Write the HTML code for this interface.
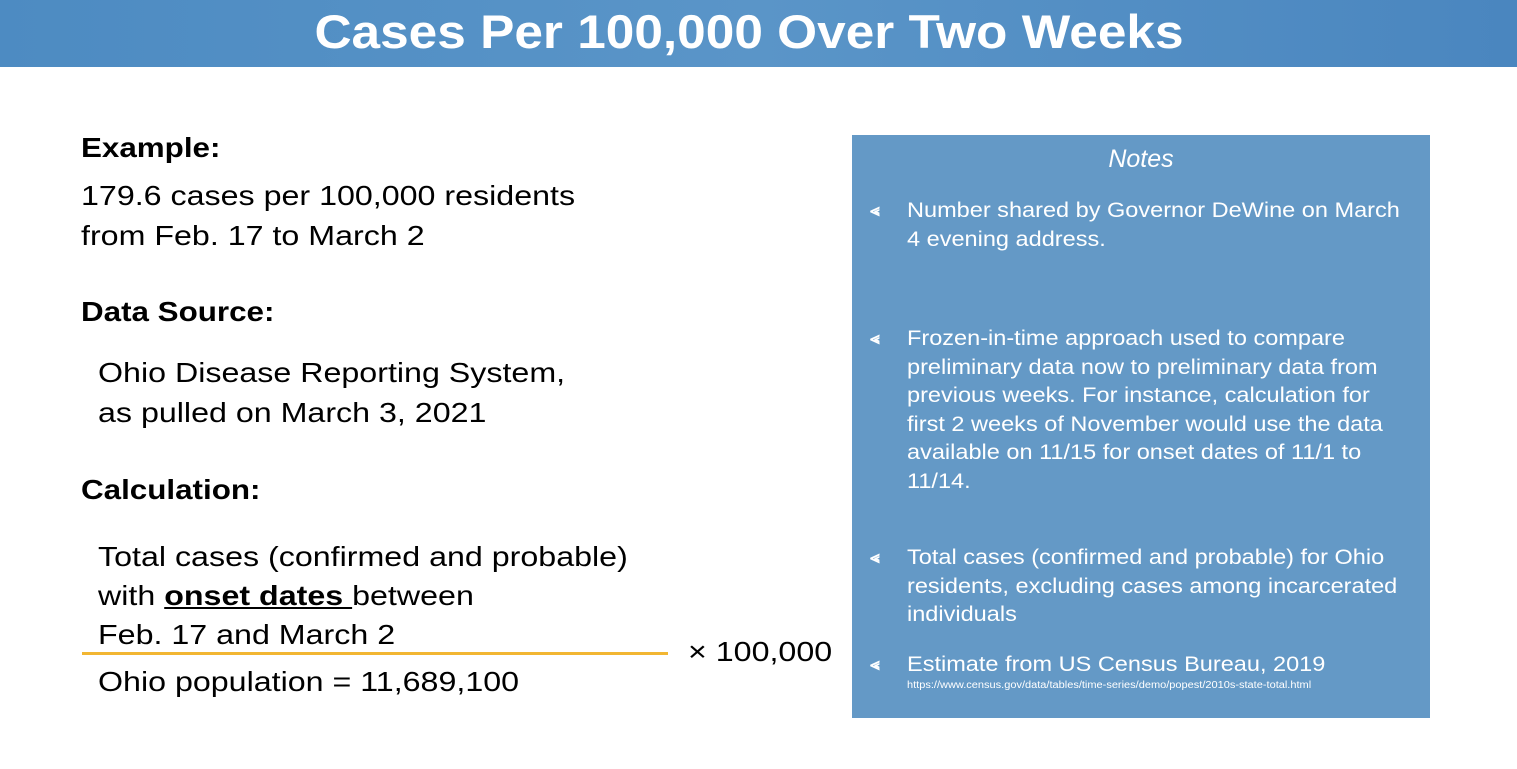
<!DOCTYPE html>
<html><head><style>
body{margin:0;width:1517px;height:769px;background:#fff;position:relative;overflow:hidden;font-family:"Liberation Sans",Arial,sans-serif;}
.hdr{position:absolute;left:0;top:0;width:1517px;height:67px;background:linear-gradient(90deg,#4d8bc2,#5a95c8 50%,#4a86bf);}
.hdr div{position:absolute;left:0;width:1498px;top:4px;text-align:center;color:#fff;font-weight:bold;font-size:47px;transform:scaleX(1.093);transform-origin:749px 0;}
.t{position:absolute;color:#000;font-size:28px;line-height:40px;white-space:nowrap;transform:scaleX(1.15);transform-origin:0 0;}
.b{font-weight:bold;}
.panel{position:absolute;left:852px;top:135px;width:578px;height:583px;background:#6499c6;}
.n{position:absolute;color:#fff;font-size:21px;line-height:28.5px;left:55px;white-space:nowrap;transform:scaleX(1.12);transform-origin:0 0;}
.ar{position:absolute;color:#fff;font-size:17px;left:18px;font-weight:bold;}
</style></head><body>
<div class="hdr"><div>Cases Per 100,000 Over Two Weeks</div></div>
<div class="t b" style="left:81px;top:128px;transform:scaleX(1.12)">Example:</div>
<div class="t" style="left:81px;top:176px">179.6 cases per 100,000 residents<br>from Feb. 17 to March 2</div>
<div class="t b" style="left:81px;top:292px;transform:scaleX(1.12)">Data Source:</div>
<div class="t" style="left:98px;top:353px">Ohio Disease Reporting System,<br>as pulled on March 3, 2021</div>
<div class="t b" style="left:81px;top:470px;transform:scaleX(1.12)">Calculation:</div>
<div class="t" style="left:98px;top:537px;line-height:39px">Total cases (confirmed and probable)<br>with <span class="b" style="text-decoration:underline">onset dates </span>between<br>Feb. 17 and March 2</div>
<div style="position:absolute;left:82px;top:652px;width:586px;height:3px;background:#f2b632"></div>
<div class="t" style="left:688px;top:632px">× 100,000</div>
<div class="t" style="left:98px;top:662px">Ohio population = 11,689,100</div>
<div class="panel">
<div style="position:absolute;left:0;width:578px;top:10px;text-align:center;color:#fff;font-style:italic;font-size:25px">Notes</div>
<div class="ar" style="top:66px">&#x2AA1;</div>
<div class="n" style="top:62px">Number shared by Governor DeWine on March<br>4 evening address.</div>
<div class="ar" style="top:194px">&#x2AA1;</div>
<div class="n" style="top:190px">Frozen-in-time approach used to compare<br>preliminary data now to preliminary data from<br>previous weeks. For instance, calculation for<br>first 2 weeks of November would use the data<br>available on 11/15 for onset dates of 11/1 to<br>11/14.</div>
<div class="ar" style="top:413px">&#x2AA1;</div>
<div class="n" style="top:409px">Total cases (confirmed and probable) for Ohio<br>residents, excluding cases among incarcerated<br>individuals</div>
<div class="ar" style="top:520px">&#x2AA1;</div>
<div class="n" style="top:516px">Estimate from US Census Bureau, 2019</div>
<div style="position:absolute;left:55px;top:545px;color:#fff;font-size:10px;white-space:nowrap;transform:scaleX(1.1);transform-origin:0 0">https://www.census.gov/data/tables/time-series/demo/popest/2010s-state-total.html</div>
</div>
</body></html>
